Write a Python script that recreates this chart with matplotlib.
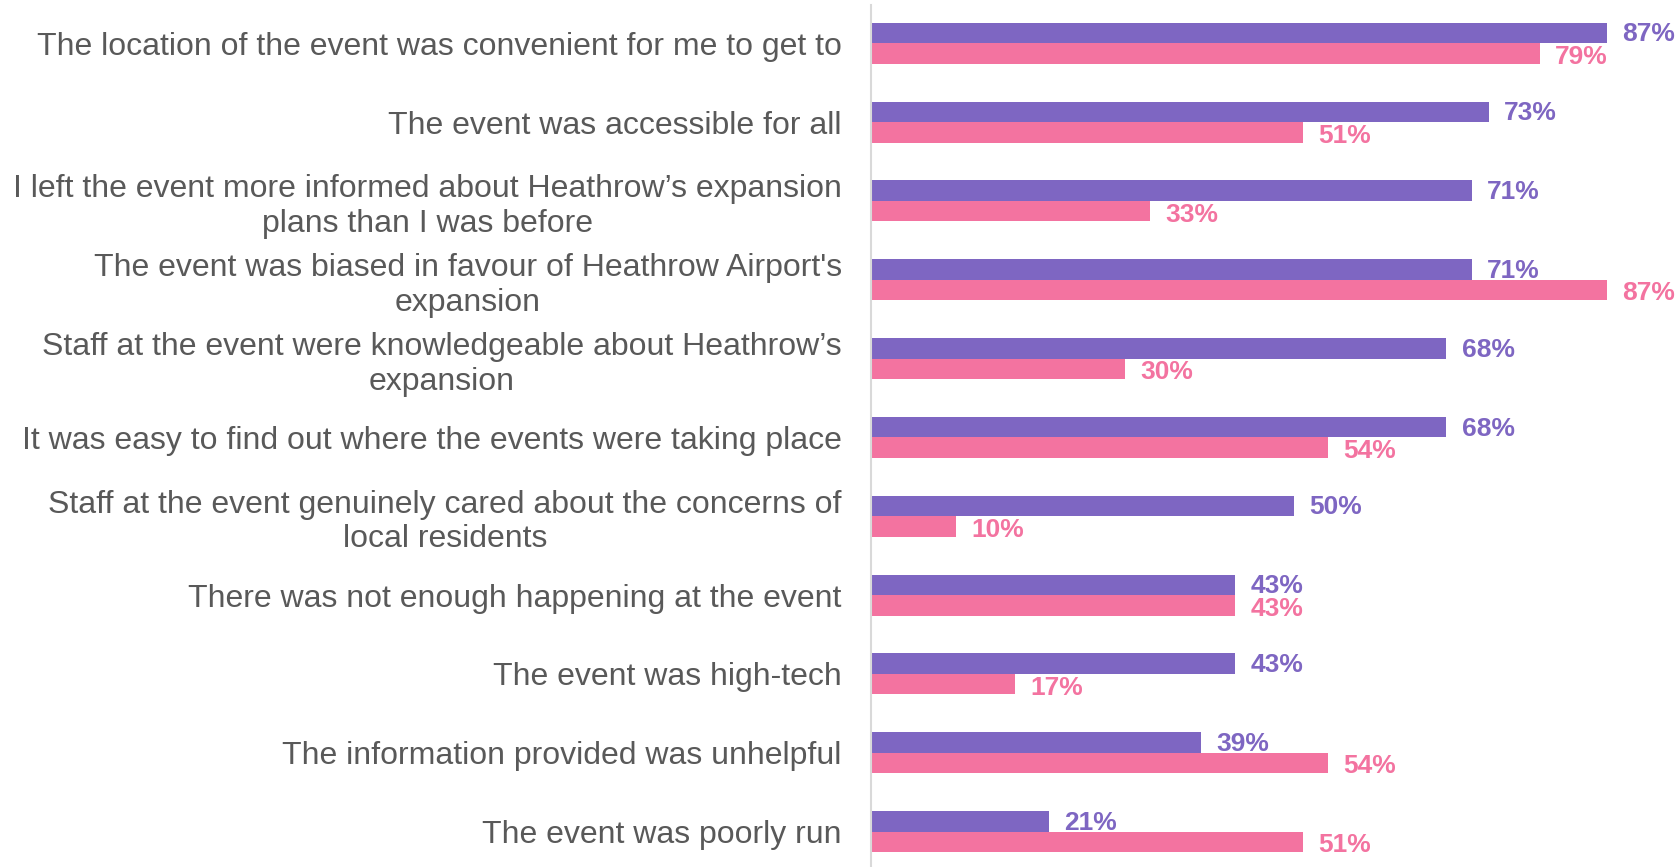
import matplotlib.pyplot as plt
import numpy as np

statements = [
    "The location of the event was convenient for me to get to",
    "The event was accessible for all",
    "I left the event more informed about Heathrow\u2019s expansion\nplans than I was before",
    "The event was biased in favour of Heathrow Airport's\nexpansion",
    "Staff at the event were knowledgeable about Heathrow\u2019s\nexpansion",
    "It was easy to find out where the events were taking place",
    "Staff at the event genuinely cared about the concerns of\nlocal residents",
    "There was not enough happening at the event",
    "The event was high-tech",
    "The information provided was unhelpful",
    "The event was poorly run",
]
purple_vals = [87, 73, 71, 71, 68, 68, 50, 43, 43, 39, 21]
pink_vals = [79, 51, 33, 87, 30, 54, 10, 43, 17, 54, 51]

PURPLE = "#7E66C2"
PINK = "#F373A0"
TEXT = "#595959"

plt.rcParams["font.family"] = ["Liberation Sans", "DejaVu Sans"]

fig = plt.figure(figsize=(16.8, 8.67), dpi=100)
ax = fig.add_axes([871 / 1680, 0.0, 1 - 871 / 1680, (867 - 5) / 867])

y = np.arange(len(statements))
h = 0.26
ax.barh(y - h / 2, purple_vals, height=h, color=PURPLE, linewidth=0)
ax.barh(y + h / 2, pink_vals, height=h, color=PINK, linewidth=0)

# value labels to the right of each bar
for yi, v in zip(y, purple_vals):
    ax.annotate(f"{v}%", (v, yi - h / 2), xytext=(11, -1), textcoords="offset points",
                va="center", ha="left", fontsize=19, fontweight="bold", color=PURPLE)
for yi, v in zip(y, pink_vals):
    ax.annotate(f"{v}%", (v, yi + h / 2), xytext=(11, -2.5), textcoords="offset points",
                va="center", ha="left", fontsize=19, fontweight="bold", color=PINK,
                annotation_clip=False)

ax.set_xlim(0, 95.6)
ax.set_ylim(10.45, -0.486)
ax.set_xticks([])
ax.set_yticks(y)
ax.set_yticklabels(statements, fontsize=23, color=TEXT, multialignment="center",
                   linespacing=1.2)
ax.tick_params(axis="y", length=0, pad=21)

for side in ["top", "right", "bottom"]:
    ax.spines[side].set_visible(False)
ax.spines["left"].set_color("#D9D9D9")
ax.spines["left"].set_linewidth(1.5)

fig.savefig("out.png", dpi=100)
